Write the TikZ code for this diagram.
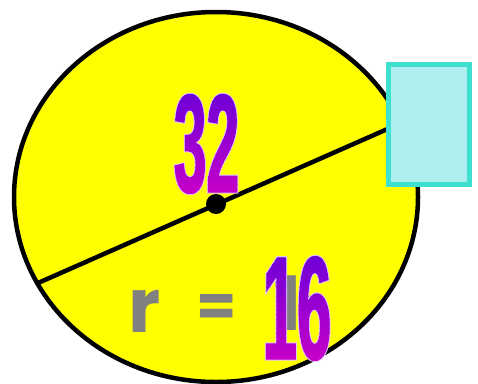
\documentclass[tikz,border=0pt]{standalone}
\usepackage{fontspec}
\usetikzlibrary{shapes.geometric}
\newfontfamily\numfont{Liberation Sans Bold}[FakeStretch=0.42,FakeBold=0.8]
\newfontfamily\numglow{Liberation Sans Bold}[FakeStretch=0.42,FakeBold=2.2]
\newfontfamily\grayfont{Poppins Bold}
\definecolor{numtop}{HTML}{6A00D8}
\definecolor{numbot}{HTML}{CC00C8}
\definecolor{glowc}{HTML}{E2C4FF}
\definecolor{turq}{HTML}{40E0D0}
\definecolor{paleturq}{HTML}{AFEEEE}
\definecolor{grayt}{HTML}{808080}
\definecolor{discy}{HTML}{FFFF00}
\tikzset{
  numtext/.style={inner sep=0pt,anchor=base,font=\numfont\fontsize{140}{140}\selectfont},
  numglowtext/.style={inner sep=0pt,anchor=base,text=glowc,font=\numglow\fontsize{140}{140}\selectfont},
  bignum/.style={font=\numfont\fontsize{147}{147}\selectfont},
  bigglow/.style={font=\numglow\fontsize{147}{147}\selectfont},
  graytext/.style={inner sep=0pt,text=grayt,font=\grayfont\fontsize{75}{75}\selectfont},
}
\begin{document}
\begin{tikzpicture}[x=1pt,y=-1pt]
\useasboundingbox (0,0) rectangle (478,383);
% circle
\node[ellipse,draw=black,fill=discy,line width=4.5pt,minimum width=404pt,minimum height=370pt,inner sep=0pt] (disc) at (216,197) {};
\coordinate (L) at (38,283);
\coordinate (R) at (392,127);
\draw[line width=4.5pt] (L) -- (R);
\node[circle,fill=black,minimum size=20pt,inner sep=0pt] (dot) at (216,204) {};
% box
\node[draw=turq,fill=paleturq,line width=5pt,minimum width=81pt,minimum height=120pt,inner sep=0pt] (box) at (429,124.5) {};
% gray text
\node[graytext,anchor=base] (r) at (145,332) {r};
\node[graytext,font=\grayfont\fontsize{58}{58}\selectfont] (eq) at (217,310) {=};
\node[graytext,anchor=base] (g1) at (288,330) {1};
% 32
\node[numglowtext] (glow32) at (206.5,192) {32};
\foreach \i in {0,...,24}{
  \pgfmathsetmacro\ya{88+\i*4.4}
  \pgfmathsetmacro\yb{\ya+4.6}
  \pgfmathtruncatemacro\p{\i*4}
  \colorlet{bandc}{numbot!\p!numtop}
  \begin{scope}
    \clip (140,\ya) rectangle (270,\yb);
    \node[numtext,text=bandc] (n32-\i) at (206.5,192) {32};
  \end{scope}
}
% 16
\node[numglowtext,bigglow] (glow16) at (297,359) {16};
\foreach \i in {0,...,24}{
  \pgfmathsetmacro\ya{250+\i*4.6}
  \pgfmathsetmacro\yb{\ya+4.8}
  \pgfmathtruncatemacro\p{\i*4}
  \colorlet{bandc}{numbot!\p!numtop}
  \begin{scope}
    \clip (230,\ya) rectangle (360,\yb);
    \node[numtext,bignum,text=bandc] (n16-\i) at (297,359) {16};
  \end{scope}
}
\end{tikzpicture}
\end{document}
